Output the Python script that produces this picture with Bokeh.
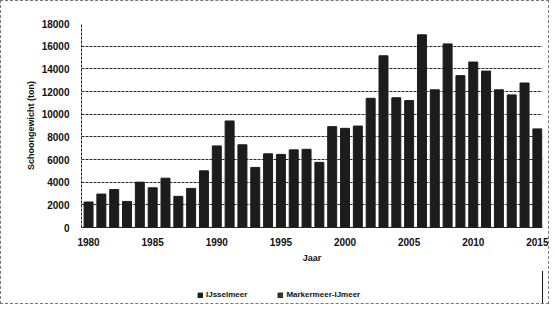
from bokeh.plotting import figure
from bokeh.models import ColumnDataSource, Legend, LegendItem, FixedTicker, Range1d
from bokeh.layouts import column
from bokeh.embed import file_html
from bokeh.resources import INLINE

years = list(range(1980, 2016))
values = [2250, 2950, 3350, 2300, 4000, 3500, 4350, 2750, 3450, 5000,
          7200, 9400, 7300, 5300, 6500, 6450, 6850, 6900, 5750, 8900,
          8750, 8950, 11400, 15150, 11450, 11200, 17000, 12150, 16200, 13400,
          14600, 13800, 12150, 11700, 12750, 8700]
y_ticks = list(range(0, 18001, 2000))
x_ticks = [1980, 1985, 1990, 1995, 2000, 2005, 2010, 2015]
series_names = ["IJsselmeer", "Markermeer-IJmeer"]
series_colors = ["#1c1c1c", "#3a3a3a"]
y_label = "Schoongewicht (ton)"
x_label = "Jaar"

FONT = "Liberation Sans"

p = figure(frame_width=461, frame_height=204, output_backend="svg",
           toolbar_location=None, x_range=Range1d(1979.45, 2015.4),
           y_range=Range1d(0, 18000),
           min_border_left=80, min_border_right=6, min_border_top=22,
           min_border_bottom=44)

src = ColumnDataSource(dict(x=years, top=values))
p.vbar(x="x", top="top", width=0.7, source=src,
       fill_color=series_colors[0], line_color=series_colors[0])

p.outline_line_color = None
p.background_fill_color = "white"
p.border_fill_color = "white"

p.xgrid.grid_line_color = None
p.ygrid.grid_line_color = "#2a2a2a"
p.ygrid.grid_line_dash = "3 1"
p.ygrid.grid_line_width = 1

p.yaxis.ticker = FixedTicker(ticks=y_ticks)
p.xaxis.ticker = FixedTicker(ticks=x_ticks)
for ax in (p.xaxis[0], p.yaxis[0]):
    ax.major_label_text_font = FONT
    ax.major_label_text_font_style = "bold"
    ax.major_label_text_font_size = "10px"
    ax.major_label_text_color = "#111111"
    ax.axis_label_text_font = FONT
    ax.axis_label_text_font_style = "bold"
    ax.axis_label_text_font_size = "9px"
    ax.axis_label_text_color = "#111111"
    ax.major_tick_line_color = None
    ax.minor_tick_line_color = None
    ax.major_tick_out = 0
    ax.major_tick_in = 0
    ax.minor_tick_out = 0
    ax.axis_line_color = "#222222"
    ax.axis_line_dash = "3 1"

p.yaxis.major_label_standoff = 12
p.yaxis.axis_label = y_label
p.yaxis.axis_label_standoff = 3
p.xaxis.major_label_standoff = 10
p.xaxis.axis_label = x_label
p.xaxis.axis_label_standoff = 4
p.xaxis.axis_line_dash = "solid"

# legend strip below the chart (its own ranges keep these bars out of view)
p2 = figure(width=547, height=32, output_backend="svg", toolbar_location=None,
            x_range=Range1d(0, 1), y_range=Range1d(0, 1),
            x_axis_location=None, y_axis_location=None,
            min_border=0)
p2.outline_line_color = None
p2.xgrid.grid_line_color = None
p2.ygrid.grid_line_color = None
rs = [p2.vbar(x="x", top="top", width=0.7, source=src,
              fill_color=c, line_color="#111111")
      for c in series_colors]
legend = Legend(items=[LegendItem(label=n, renderers=[r])
                       for n, r in zip(series_names, rs)],
                orientation="horizontal", location=(116, 4),
                label_text_font=FONT, label_text_font_style="bold",
                label_text_font_size="8px", label_text_color="#111111",
                glyph_width=6, glyph_height=6, label_standoff=3,
                spacing=30, padding=0, margin=0,
                border_line_color=None, background_fill_alpha=0)
p2.add_layout(legend, "center")

layout = column(p, p2, spacing=0, styles={"border": "1px dashed #777"})

open("out.html", "w").write(file_html(layout, INLINE))
